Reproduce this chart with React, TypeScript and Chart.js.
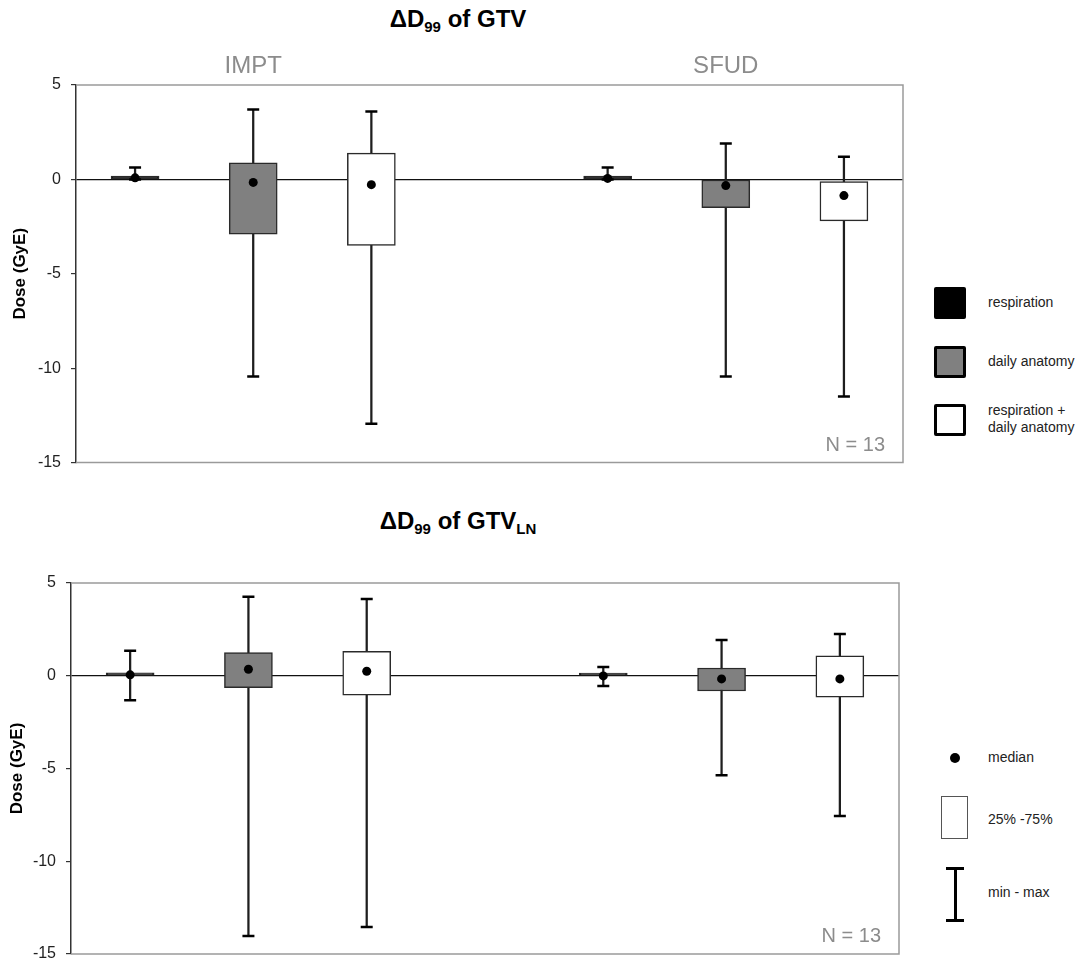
import React, { useEffect, useRef } from 'react';
import { Chart, registerables } from 'chart.js';

Chart.register(...registerables);

const FONT = 'Arial, "Liberation Sans", Helvetica, sans-serif';
Chart.defaults.font.family = FONT;

// ---------------- data ----------------
const categories = [
  'IMPT respiration',
  'IMPT daily anatomy',
  'IMPT respiration + daily anatomy',
  '',
  'SFUD respiration',
  'SFUD daily anatomy',
  'SFUD respiration + daily anatomy',
];
const planGroups = ['IMPT', 'SFUD'];
const planGroupCategoryIndex = [1, 5];
const yTicks = [-15, -10, -5, 0, 5];
const sampleSize = 13;

// ΔD99 of GTV (GyE)
const gtvMin = [0.0, -10.45, -12.95, null, 0.0, -10.45, -11.5];
const gtvQ1 = [0.0, -2.9, -3.5, null, 0.0, -1.5, -2.2];
const gtvMedian = [0.08, -0.16, -0.28, null, 0.05, -0.33, -0.86];
const gtvQ3 = [0.18, 0.87, 1.39, null, 0.18, 0.0, -0.12];
const gtvMax = [0.63, 3.7, 3.6, null, 0.63, 1.9, 1.2];

// ΔD99 of GTV_LN (GyE)
const lnMin = [-1.32, -14.03, -13.54, null, -0.55, -5.36, -7.56];
const lnQ1 = [0.0, -0.64, -1.05, null, 0.0, -0.82, -1.16];
const lnMedian = [0.05, 0.35, 0.24, null, -0.01, -0.17, -0.17];
const lnQ3 = [0.16, 1.25, 1.32, null, 0.15, 0.42, 1.08];
const lnMax = [1.35, 4.26, 4.14, null, 0.47, 1.93, 2.25];

const scenarioLegend = ['respiration', 'daily anatomy', 'respiration +\ndaily anatomy'];
const statLegend = ['median', '25% -75%', 'min - max'];

// styles
const boxFill = ['#000000', '#808080', '#ffffff', '#ffffff', '#000000', '#808080', '#ffffff'];

type Num = number | null;

interface BoxProps {
  min: Num[];
  q1: Num[];
  median: Num[];
  q3: Num[];
  max: Num[];
  width: number;
  height: number;
  padding: { top: number; right: number; bottom: number; left: number };
  axisWidth: number;
  titlePad: number;
  showGroups: boolean;
}

function BoxChart(props: BoxProps) {
  const ref = useRef<HTMLCanvasElement>(null);
  useEffect(() => {
    const canvas = ref.current as HTMLCanvasElement;
    const { min, q1, median, q3, max, padding, axisWidth, titlePad, showGroups } = props;

    const framePlugin = {
      id: 'frame',
      beforeDatasetsDraw(chart: any) {
        const { ctx, chartArea: a } = chart;
        ctx.save();
        ctx.strokeStyle = '#9a9a9a';
        ctx.lineWidth = 1.5;
        ctx.beginPath();
        ctx.moveTo(a.left, a.top);
        ctx.lineTo(a.right, a.top);
        ctx.lineTo(a.right, a.bottom);
        ctx.lineTo(a.left, a.bottom);
        ctx.stroke();
        ctx.restore();
      },
    };

    const textPlugin = {
      id: 'texts',
      afterDraw(chart: any) {
        const { ctx, chartArea: a, scales } = chart;
        ctx.save();
        ctx.fillStyle = '#8c8c8c';
        if (showGroups) {
          ctx.font = `24px ${FONT}`;
          ctx.textAlign = 'center';
          ctx.textBaseline = 'middle';
          planGroups.forEach((g, i) => {
            const x = scales.x.getPixelForValue(planGroupCategoryIndex[i]);
            ctx.fillText(g, x, a.top - 19);
          });
        }
        ctx.font = `20px ${FONT}`;
        ctx.textAlign = 'right';
        ctx.textBaseline = 'alphabetic';
        ctx.fillText(`N = ${sampleSize}`, a.right - 18, a.bottom - 12);
        ctx.restore();
      },
    };

    const chart = new Chart(canvas, {
      type: 'bar',
      data: {
        labels: categories,
        datasets: [
          {
            type: 'bar',
            label: 'range',
            data: min.map((v, i) => (v == null || max[i] == null ? null : [v, max[i]])) as any,
            backgroundColor: '#1e1e1e',
            borderWidth: 0,
            barThickness: 1.6,
            grouped: false,
            order: 4,
          } as any,
          {
            type: 'bar',
            label: 'IQR',
            data: q1.map((v, i) => (v == null || q3[i] == null ? null : [v, q3[i]])) as any,
            backgroundColor: boxFill,
            borderColor: '#2a2a2a',
            borderWidth: 1.5,
            borderSkipped: false,
            barThickness: 48,
            grouped: false,
            order: 3,
          } as any,
          {
            type: 'line',
            label: 'max',
            data: max as any,
            showLine: false,
            pointStyle: 'line',
            pointRadius: 6,
            pointHoverRadius: 6,
            pointBorderWidth: 2.5,
            pointBorderColor: '#000',
            borderColor: '#000',
            order: 2,
          } as any,
          {
            type: 'line',
            label: 'min',
            data: min as any,
            showLine: false,
            pointStyle: 'line',
            pointRadius: 6,
            pointHoverRadius: 6,
            pointBorderWidth: 2.5,
            pointBorderColor: '#000',
            borderColor: '#000',
            order: 2,
          } as any,
          {
            type: 'line',
            label: 'median',
            data: median as any,
            showLine: false,
            pointStyle: 'circle',
            pointRadius: 4.5,
            pointHoverRadius: 4.5,
            pointBackgroundColor: '#000',
            pointBorderWidth: 0,
            order: 1,
          } as any,
        ],
      },
      options: {
        responsive: false,
        animation: false,
        devicePixelRatio: 1,
        layout: { padding },
        plugins: {
          legend: { display: false },
          tooltip: { enabled: false },
          title: { display: false },
        },
        scales: {
          x: {
            display: false,
            offset: true,
            grid: { display: false },
          },
          y: {
            min: yTicks[0],
            max: yTicks[yTicks.length - 1],
            afterBuildTicks: (scale: any) => {
              scale.ticks = yTicks.map((v) => ({ value: v }));
            },
            afterFit: (scale: any) => {
              scale.width = axisWidth;
            },
            ticks: {
              color: '#222',
              font: { size: 16 },
              padding: 10,
            },
            grid: {
              color: (c: any) => (c.tick && c.tick.value === 0 ? '#111' : 'rgba(0,0,0,0)'),
              lineWidth: 1.2,
              tickColor: '#333',
              tickLength: 5,
              drawOnChartArea: true,
            },
            border: { display: true, color: '#333', width: 1.5 },
            title: {
              display: true,
              text: 'Dose (GyE)',
              color: '#000',
              font: { size: 17, weight: 'bold' },
              padding: { top: titlePad, bottom: 0 },
            },
          },
        },
      } as any,
      plugins: [framePlugin, textPlugin],
    });
    return () => chart.destroy();
  }, []);
  return <canvas ref={ref} width={props.width} height={props.height} style={{ display: 'block' }} />;
}

function ChartTitle({ top, subscriptEnd }: { top: number; subscriptEnd?: string }) {
  const sub: React.CSSProperties = { fontSize: 15, position: 'relative', top: 5 };
  return (
    <div
      style={{
        position: 'absolute',
        left: 0,
        top,
        width: 916,
        textAlign: 'center',
        fontFamily: FONT,
        fontWeight: 'bold',
        fontSize: 24,
        lineHeight: '28px',
        color: '#000',
        whiteSpace: 'nowrap',
      }}
    >
      ΔD
      <span style={sub}>99</span> of GTV
      {subscriptEnd ? <span style={sub}>{subscriptEnd}</span> : null}
    </div>
  );
}

const legendText: React.CSSProperties = {
  position: 'absolute',
  left: 988,
  fontFamily: FONT,
  fontSize: 14,
  lineHeight: '17px',
  color: '#222',
  whiteSpace: 'pre',
};

export default function App() {
  return (
    <div style={{ position: 'absolute', left: 0, top: 0, width: 1088, height: 965, background: '#fff', overflow: 'hidden' }}>
      <ChartTitle top={5} />
      <div style={{ position: 'absolute', left: 0, top: 0 }}>
        <BoxChart
          min={gtvMin}
          q1={gtvQ1}
          median={gtvMedian}
          q3={gtvQ3}
          max={gtvMax}
          width={920}
          height={483}
          padding={{ top: 85, right: 17, bottom: 20.5, left: 0 }}
          axisWidth={76}
          titlePad={10}
          showGroups={true}
        />
      </div>

      {/* scenario legend */}
      <div style={{ position: 'absolute', left: 934, top: 287, width: 32, height: 32, background: '#000', borderRadius: 2 }} />
      <div style={{ position: 'absolute', left: 934, top: 346, width: 32, height: 32, background: '#808080', border: '3px solid #000', boxSizing: 'border-box', borderRadius: 2 }} />
      <div style={{ position: 'absolute', left: 934, top: 404, width: 32, height: 32, background: '#fff', border: '3px solid #000', boxSizing: 'border-box', borderRadius: 2 }} />
      <div style={{ ...legendText, top: 294 }}>{scenarioLegend[0]}</div>
      <div style={{ ...legendText, top: 353 }}>{scenarioLegend[1]}</div>
      <div style={{ ...legendText, top: 402 }}>{scenarioLegend[2]}</div>

      <ChartTitle top={507} subscriptEnd="LN" />
      <div style={{ position: 'absolute', left: 0, top: 490 }}>
        <BoxChart
          min={lnMin}
          q1={lnQ1}
          median={lnMedian}
          q3={lnQ3}
          max={lnMax}
          width={920}
          height={484}
          padding={{ top: 93, right: 21, bottom: 20, left: 0 }}
          axisWidth={71}
          titlePad={7}
          showGroups={false}
        />
      </div>

      {/* statistics legend */}
      <div style={{ position: 'absolute', left: 950, top: 753, width: 10, height: 10, borderRadius: 5, background: '#000' }} />
      <div style={{ position: 'absolute', left: 941, top: 796, width: 27, height: 43, background: '#fff', border: '1.5px solid #555', boxSizing: 'border-box' }} />
      <div style={{ position: 'absolute', left: 954, top: 868, width: 2.5, height: 53, background: '#000' }} />
      <div style={{ position: 'absolute', left: 946, top: 867, width: 18, height: 2.5, background: '#000' }} />
      <div style={{ position: 'absolute', left: 946, top: 919, width: 18, height: 2.5, background: '#000' }} />
      <div style={{ ...legendText, top: 749 }}>{statLegend[0]}</div>
      <div style={{ ...legendText, top: 811 }}>{statLegend[1]}</div>
      <div style={{ ...legendText, top: 884 }}>{statLegend[2]}</div>
    </div>
  );
}
